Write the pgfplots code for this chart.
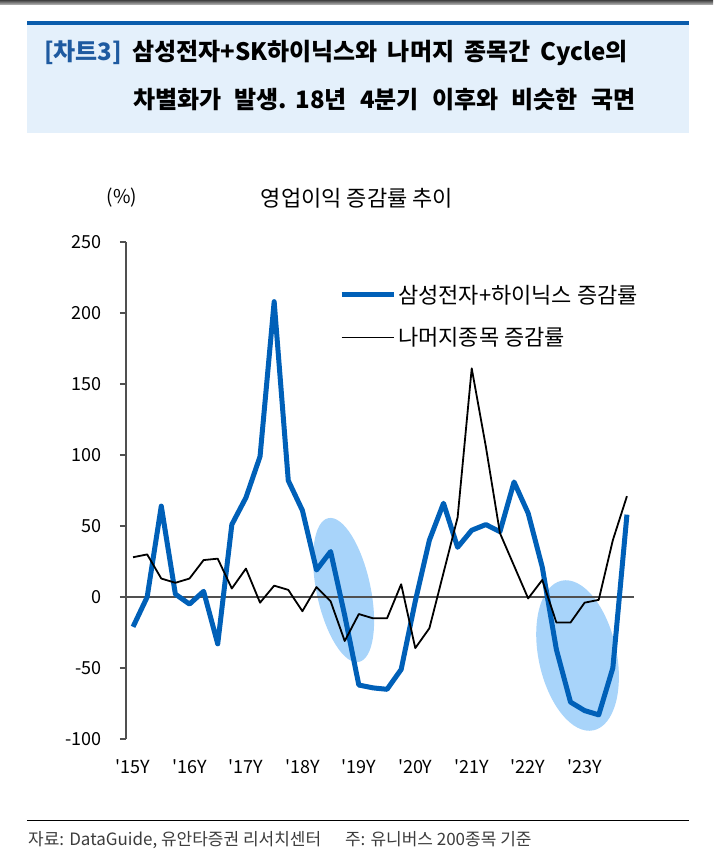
\documentclass[border=0pt]{standalone}
\usepackage{fontspec}
\setmainfont{Noto Sans CJK KR}[Ligatures=TeXOff]
\usepackage{pgfplots}
\pgfplotsset{compat=1.18}
\usetikzlibrary{shapes.geometric}
\definecolor{sblue}{RGB}{0,96,184}
\definecolor{ellblue}{RGB}{168,212,250}
\definecolor{titlebg}{RGB}{228,240,251}
\definecolor{titleline}{RGB}{10,92,172}
\definecolor{titleblue}{RGB}{30,90,160}
\definecolor{axgray}{RGB}{80,80,80}
\definecolor{foot}{RGB}{60,60,60}
\pgfplotstableread{
x samsung others
0 -21 28
1 0 30
2 64 13
3 2 10
4 -5 13
5 4 26
6 -33 27
7 51 6
8 70 20
9 99 -4
10 208 8
11 82 5
12 61 -10
13 19 7
14 32 -3
15 -13 -31
16 -62 -12
17 -64 -15
18 -65 -15
19 -51 9
20 -3 -36
21 40 -22
22 66 17
23 35 56
24 47 161
25 51 106
26 46 45
27 81 22
28 59 -1
29 21 12
30 -37 -18
31 -74 -18
32 -80 -4
33 -83 -2
34 -50 40
35 58 71
}\datatable
\begin{document}
\begin{tikzpicture}
\path[use as bounding box] (-126pt,-120pt) rectangle (587pt,739pt);
\shade[top color=black!75, bottom color=black!25] (-126pt,734pt) rectangle (587pt,739pt);
\fill[titlebg] (-99pt,606pt) rectangle (563pt,716pt);
\fill[titleline] (-99pt,714pt) rectangle (563pt,718pt);
\node[anchor=west, inner sep=0pt, font=\fontsize{24}{28}\selectfont\bfseries] at (-82pt,686pt) {\textcolor{titleblue}{[차트3]}\hspace{0.42em}삼성전자+SK하이닉스와\hspace{0.42em}나머지\hspace{0.42em}종목간\hspace{0.42em}Cycle의};
\node[anchor=west, inner sep=0pt, font=\fontsize{24}{28}\selectfont\bfseries] at (7pt,639pt) {차별화가\hspace{0.55em}발생.\hspace{0.35em}18년\hspace{0.55em}4분기\hspace{0.55em}이후와\hspace{0.55em}비슷한\hspace{0.55em}국면};
\node[font=\fontsize{19}{22}\selectfont] at (-4pt,541pt) {(\%)};
\node[font=\fontsize{22}{26}\selectfont] at (231pt,541pt) {영업이익 증감률 추이};
\begin{axis}[
  scale only axis,
  width=508pt, height=497pt,
  xmin=-0.5, xmax=35.5, ymin=-100, ymax=250,
  axis x line*=bottom, axis y line*=left,
  x axis line style={draw=none},
  major x tick style={draw=none},
  y axis line style={axgray, line width=1.3pt},
  major y tick style={axgray, line width=1.3pt},
  tick align=outside, major tick length=6pt,
  xtick={0,4,...,32},
  xticklabels={'15Y,'16Y,'17Y,'18Y,'19Y,'20Y,'21Y,'22Y,'23Y},
  ytick={-100,-50,...,250},
  /pgf/number format/assume math mode=true,
  tick label style={font=\fontsize{18}{21}\selectfont},
  xticklabel style={anchor=north, yshift=-11pt},
  yticklabel style={anchor=east, xshift=-15pt},
  clip=false,
  legend style={at={(axis description cs:0.419,0.918)}, anchor=north west, draw=none, fill=none,
    inner sep=0pt, row sep=19pt, font=\fontsize{22}{26}\selectfont},
  legend cell align=left,
  legend image code/.code={\draw[#1] (0pt,0pt) -- (52pt,0pt);},
]
\node[ellipse, fill=ellblue, inner sep=0pt, minimum width=54pt, minimum height=147pt, rotate=12] at (axis cs:14.92,4.9) {};
\node[ellipse, fill=ellblue, inner sep=0pt, minimum width=78pt, minimum height=153pt, rotate=12] at (axis cs:31.5,-41.2) {};
\draw[axgray, line width=1.5pt] (axis cs:-0.5,0) -- (axis cs:35.5,0);
\addplot[sblue, line width=5pt, line join=round] table[x=x, y=samsung] {\datatable};
\addlegendentry{삼성전자+하이닉스 증감률}
\addplot[black, line width=1.8pt, line join=round] table[x=x, y=others] {\datatable};
\addlegendentry{나머지종목 증감률}
\end{axis}
\draw[black, line width=1pt] (-99pt,-81pt) -- (563pt,-81pt);
\node[anchor=west, inner sep=0pt, text=foot, font=\fontsize{17}{20}\selectfont] at (-98pt,-101pt) {자료: DataGuide, 유안타증권 리서치센터\hspace{1.4em}주: 유니버스 200종목 기준};
\end{tikzpicture}
\end{document}
